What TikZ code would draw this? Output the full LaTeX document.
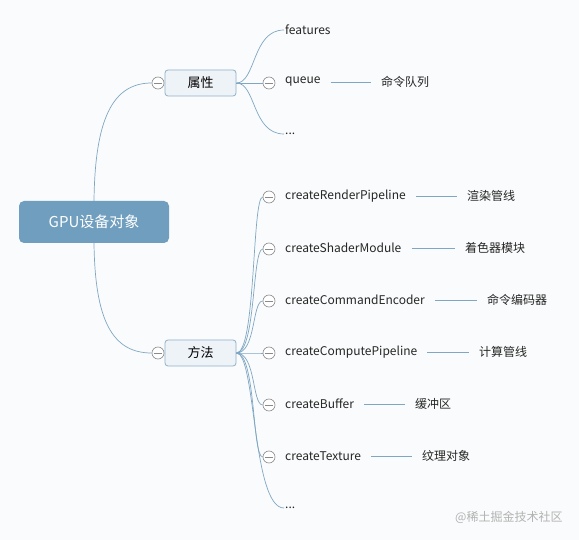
\documentclass[tikz,border=0pt]{standalone}
\usepackage{fontspec}
\setmainfont{Noto Sans}
\newfontfamily\cjk{Noto Sans CJK SC}
\definecolor{bg}{HTML}{FAFBFC}
\definecolor{rootfill}{HTML}{6F9EBE}
\definecolor{linec}{HTML}{7FA7C3}
\definecolor{boxfill}{HTML}{EEF3F8}
\definecolor{boxdraw}{HTML}{8FB0C8}
\definecolor{circc}{HTML}{8A8A8A}
\tikzset{
  rootbox/.style={fill=rootfill, rounded corners=5pt, minimum width=150pt, minimum height=42pt, text=white, font=\cjk\fontsize{15}{17}\selectfont},
  midbox/.style={fill=boxfill, draw=boxdraw, line width=0.8pt, rounded corners=3pt, minimum width=71pt, minimum height=26pt, font=\cjk\fontsize{13}{15}\selectfont},
  leaf/.style={anchor=west, inner sep=1pt, font=\cjk\fontsize{12}{14}\selectfont, text=black!85},
  note/.style={anchor=west, inner sep=1pt, font=\cjk\fontsize{12}{14}\selectfont, text=black!85},
  collapse/.style={circle, draw=circc, fill=white, line width=0.6pt, minimum size=12pt, inner sep=0pt,
    path picture={\draw[circc, line width=0.6pt] ([xshift=-4pt]path picture bounding box.center) -- ([xshift=4pt]path picture bounding box.center);}},
  conn/.style={linec, line width=0.7pt},
}
\begin{document}
\begin{tikzpicture}[x=1pt, y=-1pt]
\fill[bg] (0,0) rectangle (579,540);
\useasboundingbox (0,0) rectangle (579,540);

\node[rootbox] (root) at (94,222) {GPU设备对象};

\node[midbox] (attr) at (200.5,83) {属性};
\node[midbox] (meth) at (200.5,353) {方法};
\node[collapse] (ca) at (158,83) {};
\node[collapse] (cm) at (158,353) {};

% root connectors
\draw[conn] (root.north) .. controls (95,120) and (112,83) .. (ca.west);
\draw[conn] (root.south) .. controls (95,320) and (112,353) .. (cm.west);

% attribute children
\node[leaf] (features) at (284,30) {features};
\node[collapse] (cq) at (269,83) {};
\node[leaf] (queue) at (284,82) {queue};
\node[leaf] (adots) at (284,134) {...};
\node[note] (nqueue) at (380,82) {命令队列};

\draw[conn] (attr.east) .. controls (256,83) and (252,30) .. (features.west);
\draw[conn] (attr.east) -- (cq.west);
\draw[conn] (attr.east) .. controls (256,83) and (252,134) .. (adots.west);
\draw[conn] ([xshift=9pt]queue.east) -- ([xshift=-9pt]nqueue.west);

% method children
\foreach \i/\y/\t/\n/\nx in {
  1/197/createRenderPipeline/渲染管线/466,
  2/249/createShaderModule/着色器模块/464,
  3/301/createCommandEncoder/命令编码器/486,
  4/353/createComputePipeline/计算管线/478,
  5/405/createBuffer/缓冲区/414,
  6/457/createTexture/纹理对象/421} {
  \node[collapse] (c\i) at (269,\y) {};
  \node[leaf] (m\i) at (284,\y-1) {\t};
  \node[note] (n\i) at (\nx,\y-1) {\n};
  \draw[conn] (meth.east) .. controls (256,353) and (252,\y) .. (c\i.west);
  \draw[conn] ([xshift=9pt]m\i.east) -- ([xshift=-9pt]n\i.west);
}
\node[leaf] (mdots) at (284,508) {...};
\draw[conn] (meth.east) .. controls (256,353) and (252,508) .. (mdots.west);

\node[anchor=west, inner sep=0pt, text=black!30, font=\cjk\fontsize{12}{14}\selectfont] (wm) at (455,517) {@稀土掘金技术社区};
\end{tikzpicture}
\end{document}
